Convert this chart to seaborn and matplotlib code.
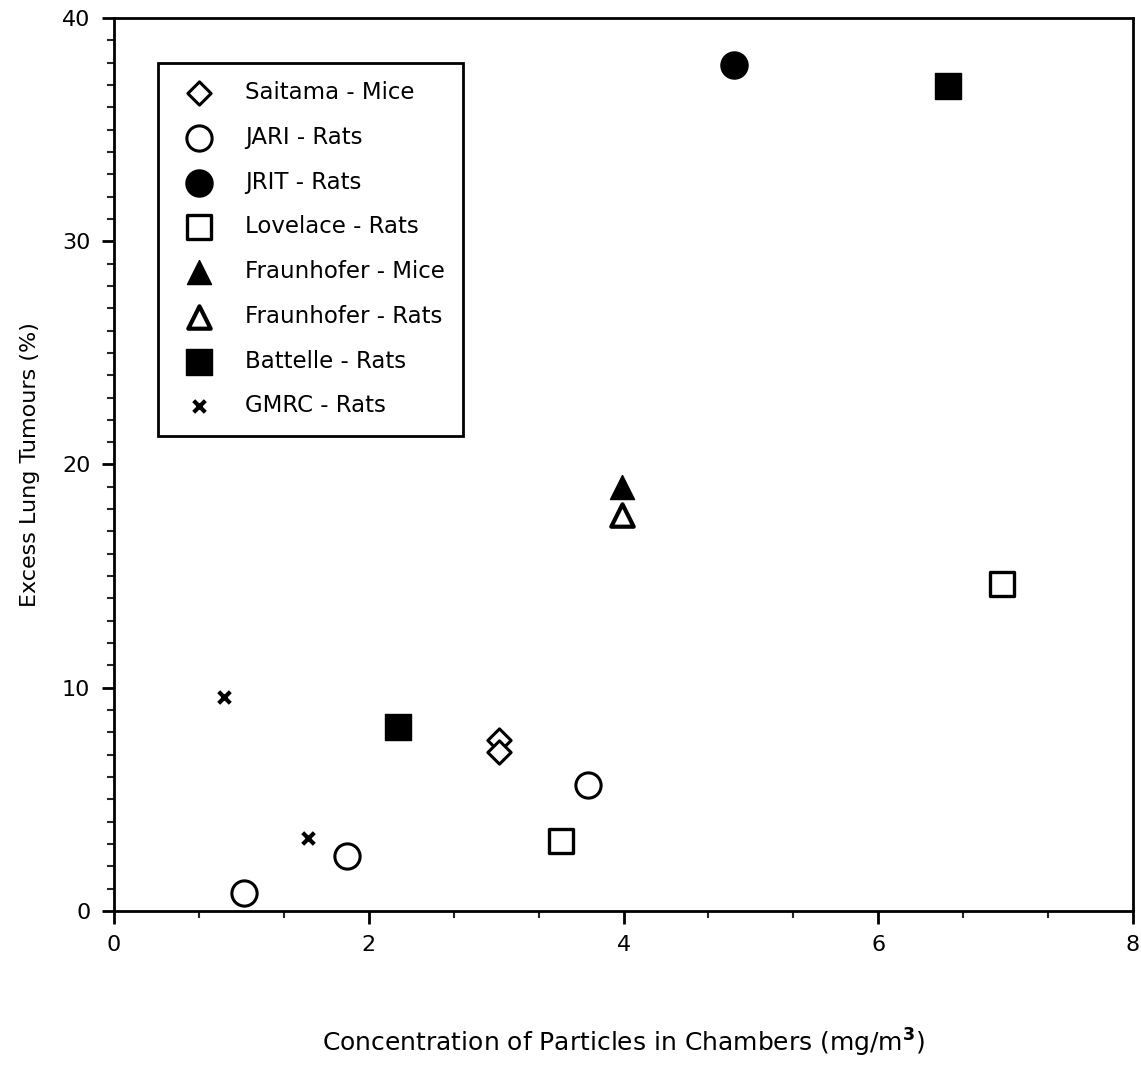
import matplotlib
matplotlib.use("Agg")
import matplotlib.pyplot as plt
import pandas as pd
import seaborn as sns
from matplotlib.ticker import MultipleLocator

# Data
saitama_x = [3.02, 3.02]
saitama_y = [7.65, 7.11]
jari_x = [1.02, 1.83, 3.72]
jari_y = [0.8, 2.46, 5.64]
jrit_x = [4.87]
jrit_y = [37.9]
lovelace_x = [3.51, 6.97]
lovelace_y = [3.13, 14.63]
fraun_mice_x = [3.99]
fraun_mice_y = [18.97]
fraun_rats_x = [3.99]
fraun_rats_y = [17.72]
battelle_x = [2.23, 6.55]
battelle_y = [8.23, 36.96]
gmrc_x = [0.86, 1.52]
gmrc_y = [9.57, 3.27]

groups = [
    ("Saitama - Mice", saitama_x, saitama_y),
    ("JARI - Rats", jari_x, jari_y),
    ("JRIT - Rats", jrit_x, jrit_y),
    ("Lovelace - Rats", lovelace_x, lovelace_y),
    ("Fraunhofer - Mice", fraun_mice_x, fraun_mice_y),
    ("Fraunhofer - Rats", fraun_rats_x, fraun_rats_y),
    ("Battelle - Rats", battelle_x, battelle_y),
    ("GMRC - Rats", gmrc_x, gmrc_y),
]

# marker, face colour, size, edge width
styles = {
    "Saitama - Mice": ("D", "white", 140, 2.2),
    "JARI - Rats": ("o", "white", 330, 2.2),
    "JRIT - Rats": ("o", "black", 380, 1),
    "Lovelace - Rats": ("s", "white", 300, 2.4),
    "Fraunhofer - Mice": ("^", "black", 300, 1),
    "Fraunhofer - Rats": ("^", "white", 260, 3),
    "Battelle - Rats": ("s", "black", 330, 1),
    "GMRC - Rats": ("x", "black", 70, 3),
}

rows = []
for name, xs, ys in groups:
    for x, y in zip(xs, ys):
        rows.append({"group": name, "x": x, "y": y})
df = pd.DataFrame(rows)

sns.set_style("ticks")
plt.rcParams['font.family'] = ['DejaVu Sans']
plt.rcParams['text.color'] = 'black'
plt.rcParams['axes.labelcolor'] = 'black'

fig = plt.figure(figsize=(11.41, 10.88), dpi=100)
ax = fig.add_axes([114 / 1141, 1 - 911 / 1088, (1133 - 114) / 1141, (911 - 18) / 1088])

for name, xs, ys in groups:
    m, fc, s, lw = styles[name]
    sub = df[df["group"] == name]
    if m == "x":
        sns.scatterplot(data=sub, x="x", y="y", marker=m, color="black", s=s,
                        linewidth=lw, ax=ax, label=name, zorder=3)
    else:
        sns.scatterplot(data=sub, x="x", y="y", marker=m, facecolor=fc,
                        edgecolor="black", s=s, linewidth=lw, ax=ax, label=name, zorder=3)

ax.set_xlim(0, 8)
ax.set_ylim(0, 40)
ax.xaxis.set_major_locator(MultipleLocator(2))
ax.xaxis.set_minor_locator(MultipleLocator(2 / 3))
ax.yaxis.set_major_locator(MultipleLocator(10))
ax.yaxis.set_minor_locator(MultipleLocator(1))
ax.tick_params(which="major", direction="out", length=9, width=2, labelsize=16,
               colors="black", pad=8)
ax.tick_params(which="minor", direction="out", length=5, width=1.5)
ax.tick_params(top=False, right=False, which="both")
for sp in ax.spines.values():
    sp.set_linewidth(2)
    sp.set_color("black")

ax.set_ylabel("Excess Lung Tumours (%)", fontsize=16, labelpad=16)
ax.set_xlabel("Concentration of Particles in Chambers (mg/m$^{\\mathbf{3}}$)",
              fontsize=18, labelpad=52)

leg = ax.legend(loc="upper left", bbox_to_anchor=(0.043, 0.95), fontsize=16.5,
                frameon=True, fancybox=False, edgecolor="black", borderpad=0.8,
                labelspacing=0.95, handletextpad=1.0, borderaxespad=0)
leg.get_frame().set_linewidth(2)
leg.get_frame().set_alpha(1)

fig.savefig("out.png", dpi=100)
